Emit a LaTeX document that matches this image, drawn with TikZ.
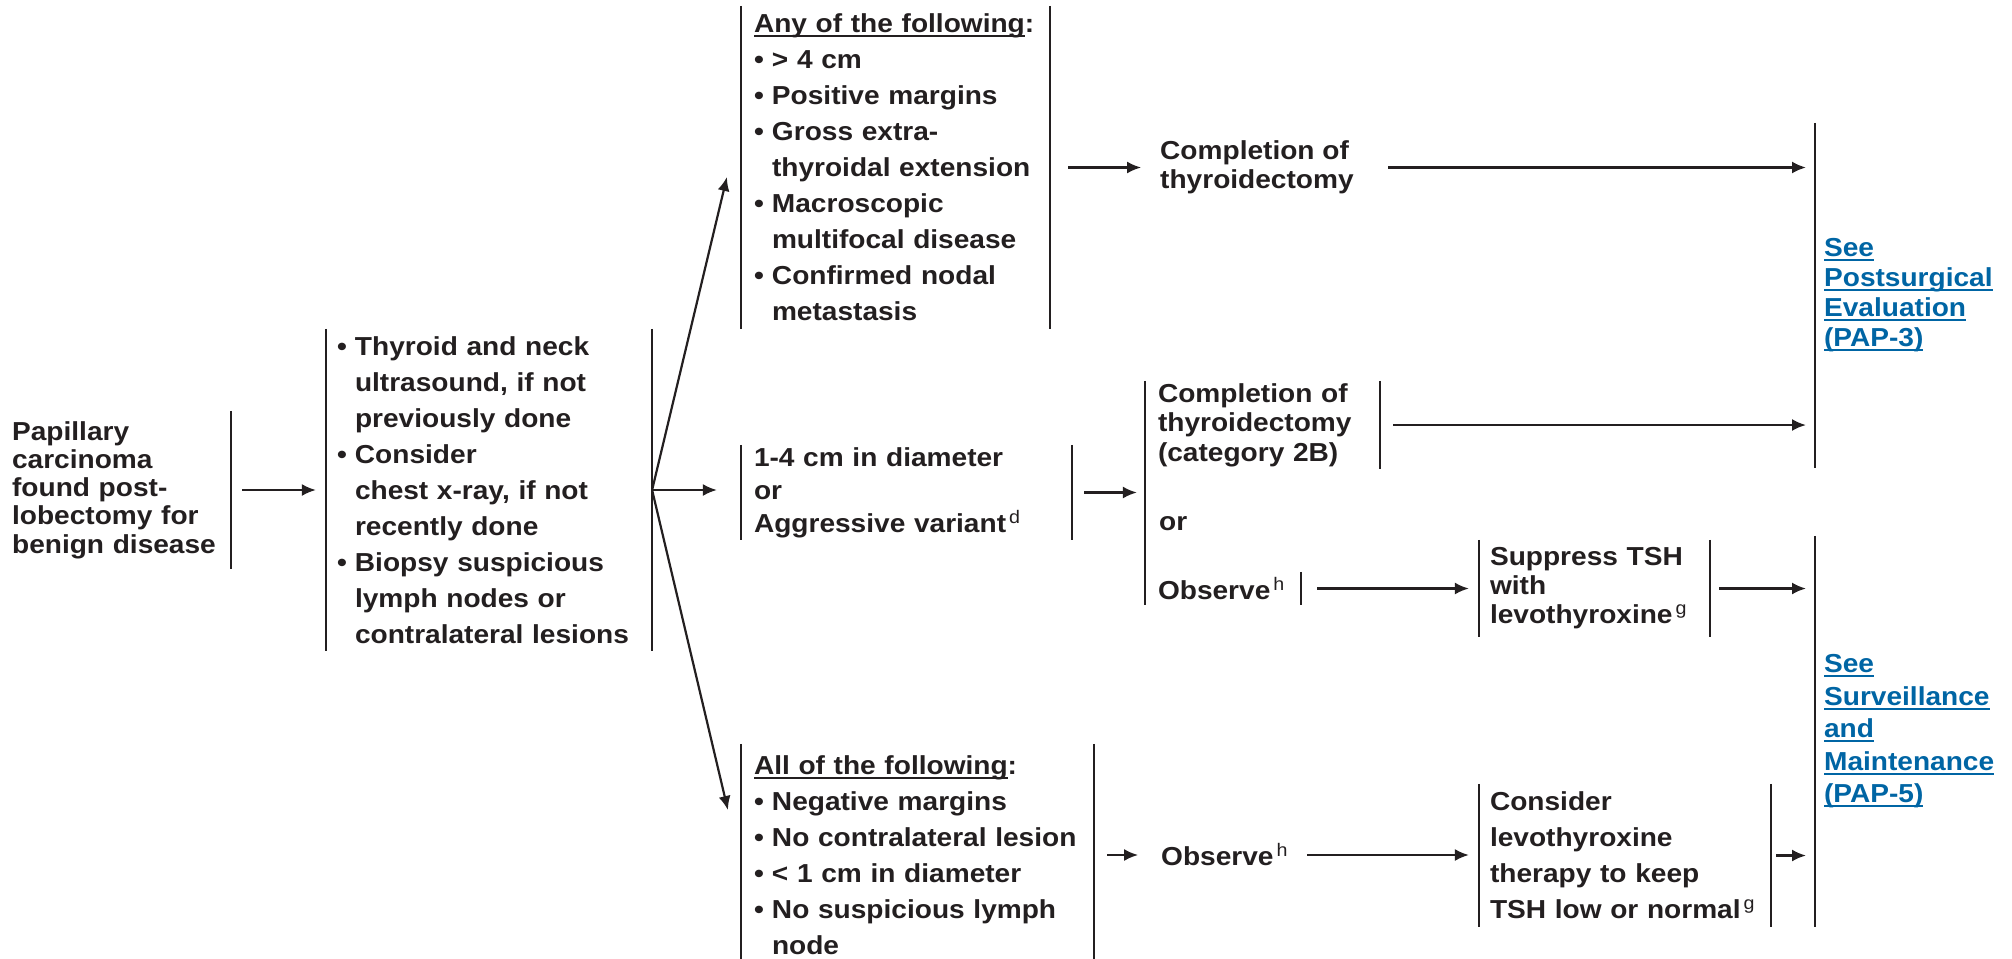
\documentclass[tikz,border=0pt]{standalone}
\usepackage{fontspec}
\setmainfont{Liberation Sans}[FakeStretch=1.08]
\usepackage{xcolor}
\usepackage{tikz}
\usetikzlibrary{arrows.meta}
\usetikzlibrary{positioning}

\definecolor{ink}{RGB}{35,31,32}
\definecolor{linkblue}{RGB}{0,101,164}

\newlength{\ulw}
\newcommand{\uln}[1]{\settowidth{\ulw}{#1}\rlap{\rule[-4.5pt]{\ulw}{2pt}}#1}
\newcommand{\bul}{\makebox[18pt][l]{\textbullet}}
\newcommand{\ind}{\hspace*{18pt}}
\newcommand{\fn}[1]{\textsuperscript{\,\mdseries #1}}

\tikzset{box/.style={rectangle, inner xsep=12pt, inner ysep=0pt, align=left, text=ink, font=\fontsize{26}{#1}\selectfont\bfseries}, box/.default=36}
\tikzstyle{link} = [text=linkblue, inner xsep=8pt, anchor=west]
\tikzstyle{bar}  = [-, draw=ink]
\tikzstyle{arr}  = [->, draw=ink]

\begin{document}
\begin{tikzpicture}[x=1pt,y=1pt,>={Latex[length=14pt,width=12pt]},line width=2.2pt]

\useasboundingbox (0,0) rectangle (2012,-958);

\node[box=28.3, anchor=west, inner xsep=0pt, text width=218pt, minimum height=156pt] (pap) at (11,-490) {Papillary\\carcinoma\\found post-\\lobectomy for\\benign disease};
\node[box, inner xsep=10pt, text width=304pt, minimum height=320pt] (tests) at (489,-490) {\bul Thyroid and neck\\ \ind ultrasound, if not\\ \ind previously done\\ \bul Consider\\ \ind chest x-ray, if not\\ \ind recently done\\ \bul Biopsy suspicious\\ \ind lymph nodes or\\ \ind contralateral lesions};

\node[box, text width=283pt, minimum height=321pt] (any) at (895.5,-167.5) {\uln{Any of the following}:\\ \bul > 4 cm\\ \bul Positive margins\\ \bul Gross extra-\\ \ind thyroidal extension\\ \bul Macroscopic\\ \ind multifocal disease\\ \bul Confirmed nodal\\ \ind metastasis};
\node[box=33, text width=305pt, minimum height=93pt] (mid) at (906.5,-492.5) {1-4 cm in diameter\\or\\Aggressive variant\fn{d}};
\node[box, text width=327pt, minimum height=220pt] (all) at (917.5,-855) {\uln{All of the following}:\\ \bul Negative margins\\ \bul No contralateral lesion\\ \bul < 1 cm in diameter\\ \bul No suspicious lymph\\ \ind node};

\node[box=29, inner xsep=10pt] (cmp1) [right=99pt of any] {Completion of\\thyroidectomy};
\node[box=29.5, text width=209pt, minimum height=86pt] (cmp2) at (1262.5,-425) {Completion of\\thyroidectomy\\(category 2B)};
\node[box, anchor=west] (or2) at (1146,-524) {or};
\node[box, text width=130pt, minimum height=31pt] (obs1) at (1223,-588.5) {Observe\fn{h}};
\node[box, inner xsep=10pt] (obs2) [right=56pt of all] {Observe\fn{h}};

\node[box=29, inner xsep=10pt, text width=209pt, minimum height=95pt] (sup) at (1594.5,-588.5) {Suppress TSH\\with\\levothyroxine\fn{g}};
\node[box, inner xsep=10pt, text width=270pt, minimum height=141pt] (con) at (1625,-855.5) {Consider\\levothyroxine\\therapy to keep\\TSH low or normal\fn{g}};

\node[box=30, link, minimum height=343pt] (pap3) at (1815,-295.5) {\uln{See}\\\uln{Postsurgical}\\\uln{Evaluation}\\\uln{(PAP-3)}};
\node[box=32.5, link, minimum height=389pt] (pap5) at (1815,-731.5) {\uln{See}\\\uln{Surveillance}\\\uln{and}\\\uln{Maintenance}\\\uln{(PAP-5)}};

% side bars
\foreach \n in {tests,any,mid,all,sup,con}
	\draw[bar] (\n.north west) -- (\n.south west) (\n.north east) -- (\n.south east);
\draw[bar] (pap.north east) -- (pap.south east);
\draw[bar] (cmp2.north west) -- (obs1.south west);
\draw[bar] (cmp2.north east) -- (cmp2.south east);
\draw[bar] (obs1.north east) -- (obs1.south east);
\draw[bar] (pap3.north west) -- (pap3.south west);
\draw[bar] (pap5.north west) -- (pap5.south west);

% arrows
\draw[arr, shorten <=11pt, shorten >=10pt] (pap) -- (tests);
\draw[arr] (tests.east) -- ([xshift=-14pt,yshift=-9.5pt]any.west);
\draw[arr, shorten >=24pt] (tests.east) -- (tests.east -| mid.west);
\draw[arr] (tests.east) -- ([xshift=-13pt,yshift=45pt]all.west);

\draw[arr, shorten <=18pt, shorten >=8pt] (any.east) -- (any.east -| cmp1.west);
\draw[arr, shorten <=12pt, shorten >=8pt] (mid.east) -- (mid.east -| cmp2.west);
\draw[arr, shorten <=13pt, shorten >=12pt] (all) -- (obs2);

\draw[arr, shorten <=8pt, shorten >=9pt] (cmp1.east -| cmp2.east) -- (cmp1.east -| pap3.west);
\draw[arr, shorten <=13pt, shorten >=9pt] (cmp2.east) -- (cmp2.east -| pap3.west);
\draw[arr, shorten <=16pt, shorten >=10pt] (obs1) -- (sup);
\draw[arr, shorten <=9pt, shorten >=9pt] (sup.east) -- (sup.east -| pap5.west);
\draw[arr, shorten <=8pt, shorten >=10pt] (obs2.east) -- (obs2.east -| con.west);
\draw[arr, shorten <=5pt, shorten >=9pt] (con.east) -- (con.east -| pap5.west);

\end{tikzpicture}
\end{document}
